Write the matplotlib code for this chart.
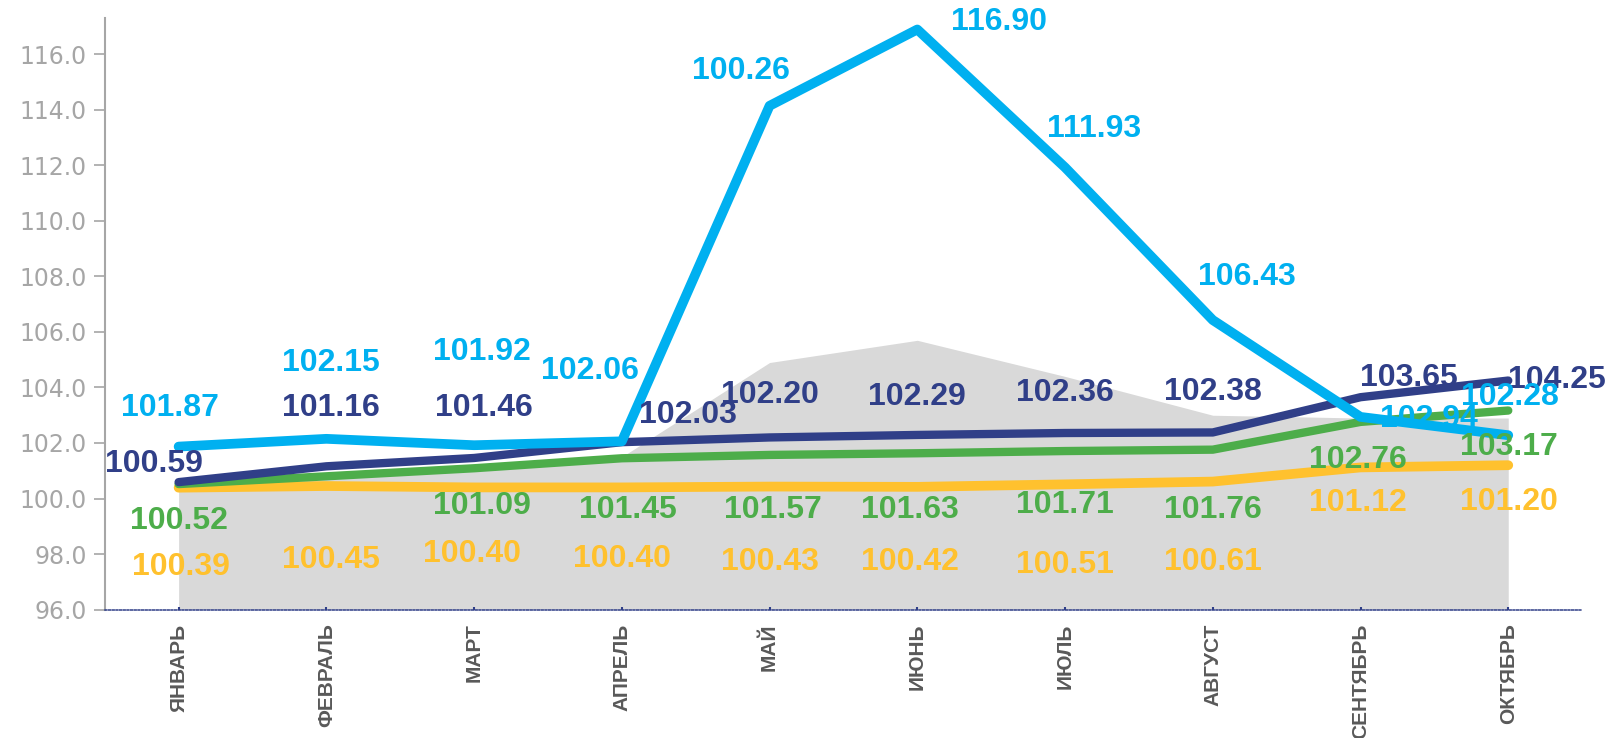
import matplotlib
matplotlib.use("Agg")
import matplotlib.pyplot as plt
import numpy as np

# ---------------- data ----------------
months = ["ЯНВАРЬ", "ФЕВРАЛЬ", "МАРТ", "АПРЕЛЬ", "МАЙ", "ИЮНЬ", "ИЮЛЬ",
          "АВГУСТ", "СЕНТЯБРЬ", "ОКТЯБРЬ"]

area_values = [100.4, 100.8, 101.1, 101.5, 104.9, 105.7, 104.4, 103.0, 102.9, 102.9]

cyan_values = [101.87, 102.15, 101.92, 102.06, 114.15, 116.90, 111.93, 106.43, 102.94, 102.28]
cyan_labels = ["101.87", "102.15", "101.92", "102.06", "100.26", "116.90", "111.93",
               "106.43", "102.94", "102.28"]

navy_values = [100.59, 101.16, 101.46, 102.03, 102.20, 102.29, 102.36, 102.38, 103.65, 104.25]
navy_labels = ["100.59", "101.16", "101.46", "102.03", "102.20", "102.29", "102.36",
               "102.38", "103.65", "104.25"]

green_values = [100.52, 100.80, 101.09, 101.45, 101.57, 101.63, 101.71, 101.76, 102.76, 103.17]
green_labels = ["100.52", None, "101.09", "101.45", "101.57", "101.63", "101.71",
                "101.76", "102.76", "103.17"]

yellow_values = [100.39, 100.45, 100.40, 100.40, 100.43, 100.42, 100.51, 100.61, 101.12, 101.20]
yellow_labels = ["100.39", "100.45", "100.40", "100.40", "100.43", "100.42", "100.51",
                 "100.61", "101.12", "101.20"]

y_ticks = [96, 98, 100, 102, 104, 106, 108, 110, 112, 114, 116]

# ---------------- layout (label offsets in pixels) ----------------
cyan_off = [(-8, 38), (4, 74), (8, 91), (-31, 69), (-28, 34), (80, 7), (28, 37),
            (33, 42), (67, -2), (2, 37)]
navy_off = [(-24, 18), (4, 57), (10, 49), (64, 26), (0, 41), (0, 37), (0, 39),
            (0, 39), (47, 19), (47, 1)]
green_off = [(0, -36), (0, 0), (8, -37), (6, -50), (3, -54), (-7, -55), (0, -53),
             (0, -59), (-3, -37), (1, -36)]
yellow_off = [(2, -77), (4, -72), (-2, -65), (0, -70), (0, -74), (-7, -73), (0, -79),
              (0, -78), (-3, -35), (1, -36)]

C_CYAN = "#00B0F0"
C_NAVY = "#303F88"
C_GREEN = "#4DAD4A"
C_YELLOW = "#FFC12E"
C_AREA = "#D9D9D9"

fig = plt.figure(figsize=(16.09, 7.38), dpi=100)
ax = fig.add_axes([0.0651, 0.1741, 0.9182, 0.801])

x = np.arange(len(months))
ax.fill_between(x, 96, area_values, color=C_AREA, lw=0, zorder=1)

ax.plot(x, yellow_values, color=C_YELLOW, lw=7.0, solid_capstyle="round",
        solid_joinstyle="round", zorder=3)
ax.plot(x, green_values, color=C_GREEN, lw=6.0, solid_capstyle="round",
        solid_joinstyle="round", zorder=4)
ax.plot(x, navy_values, color=C_NAVY, lw=6.0, solid_capstyle="round",
        solid_joinstyle="round", zorder=5)
ax.plot(x, cyan_values, color=C_CYAN, lw=7.0, solid_capstyle="round",
        solid_joinstyle="round", zorder=6)

scale = 1.026
lab_font = dict(family=["Liberation Sans", "DejaVu Sans"], fontsize=23, fontweight="bold")


def put_labels(vals, labels, offs, color):
    for i, (v, t, o) in enumerate(zip(vals, labels, offs)):
        if t is None:
            continue
        ax.annotate(t, (x[i], v), xytext=(o[0] * scale, o[1] * scale),
                    textcoords="offset pixels", ha="center", va="center",
                    color=color, zorder=10, **lab_font)


put_labels(yellow_values, yellow_labels, yellow_off, C_YELLOW)
put_labels(green_values, green_labels, green_off, C_GREEN)
put_labels(navy_values, navy_labels, navy_off, C_NAVY)
put_labels(cyan_values, cyan_labels, cyan_off, C_CYAN)

ax.set_xlim(-0.5, len(months) - 0.5)
ax.set_ylim(96, 117.3)
ax.set_yticks(y_ticks)
ax.set_yticklabels([f"{t:.1f}" for t in y_ticks], color="#A6A6A6",
                   fontsize=17, family="DejaVu Sans")
ax.tick_params(axis="y", direction="out", length=8, width=1.2, color="#A6A6A6", pad=5)

ax.set_xticks(x)
ax.set_xticklabels(months, rotation=90, color="#595959", fontsize=15,
                   fontweight="bold", family="Liberation Sans", va="top", ha="center")
ax.tick_params(axis="x", direction="in", length=2.5, width=1.5, color=C_NAVY, pad=10)

for s in ["top", "right"]:
    ax.spines[s].set_visible(False)
ax.spines["left"].set_color("#A6A6A6")
ax.spines["left"].set_linewidth(1.5)
ax.spines["bottom"].set_color(C_NAVY)
ax.spines["bottom"].set_linewidth(1.1)
ax.spines["bottom"].set_linestyle((0, (1.2, 1.2)))
ax.spines["bottom"].set_zorder(7)
ax.set_facecolor("white")

fig.savefig("out.png", dpi=100)
